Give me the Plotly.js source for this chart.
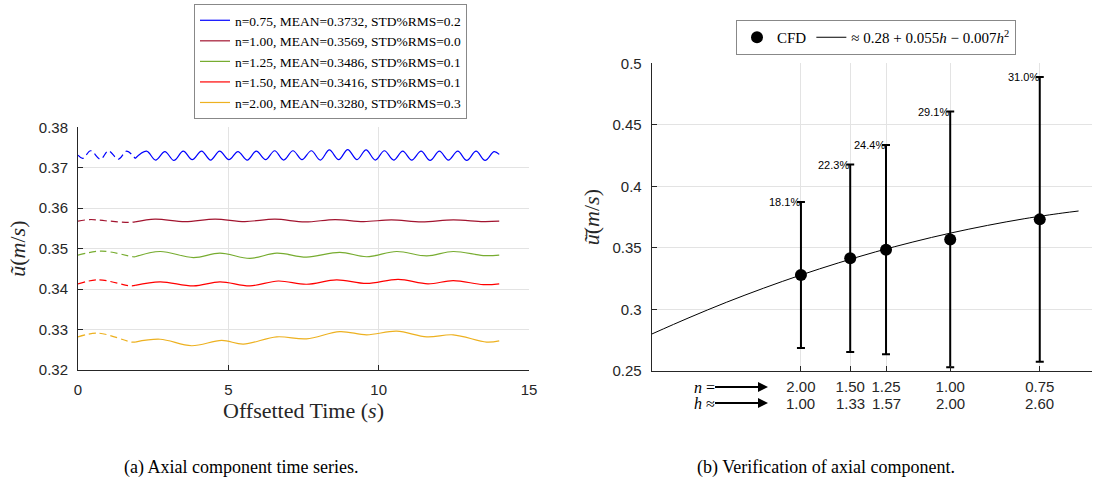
<!DOCTYPE html>
<html><head><meta charset="utf-8">
<script src="https://cdn.plot.ly/plotly-3.0.1.min.js"></script>
<style>html,body{margin:0;padding:0;background:#fff}#chart{width:1095px;height:483px}</style>
</head><body><div id="chart"></div>
<script>
// ===== (a) Axial component time series =====
const seriesLabels = [
  "n=0.75, MEAN=0.3732, STD%RMS=0.2",
  "n=1.00, MEAN=0.3569, STD%RMS=0.0",
  "n=1.25, MEAN=0.3486, STD%RMS=0.1",
  "n=1.50, MEAN=0.3416, STD%RMS=0.1",
  "n=2.00, MEAN=0.3280, STD%RMS=0.3"
];
const seriesColors = ["#0000FF", "#A2142F", "#77AC30", "#FF0000", "#EDB120"];

const t075 = [0, 0.16, 0.42, 0.75, 1.01, 1.34, 1.62, 1.90, 2.28, 2.58, 2.89, 3.19, 3.50, 3.80, 4.11, 4.41, 4.71, 5.02, 5.32, 5.63, 5.93, 6.24, 6.54, 6.84, 7.15, 7.45, 7.76, 8.06, 8.36, 8.67, 8.97, 9.28, 9.58, 9.89, 10.19, 10.50, 10.80, 11.10, 11.41, 11.71, 12.02, 12.32, 12.63, 12.93, 13.24, 13.54, 13.84, 14.01];
const u075 = [0.3731, 0.3723, 0.3742, 0.3721, 0.3742, 0.3721, 0.3741, 0.3723, 0.3741, 0.3719, 0.3740, 0.3718, 0.3741, 0.3720, 0.3741, 0.3719, 0.3741, 0.3720, 0.3740, 0.3719, 0.3741, 0.3720, 0.3742, 0.3719, 0.3742, 0.3720, 0.3742, 0.3719, 0.3744, 0.3720, 0.3745, 0.3720, 0.3744, 0.3719, 0.3742, 0.3719, 0.3741, 0.3719, 0.3741, 0.3718, 0.3741, 0.3719, 0.3741, 0.3718, 0.3741, 0.3718, 0.3740, 0.3733];

const t100 = [0, 0.40, 0.90, 1.67, 1.90, 2.56, 3.56, 4.56, 5.55, 6.55, 7.55, 8.55, 9.49, 10.43, 11.43, 12.48, 13.48, 14.01];
const u100 = [0.3568, 0.3572, 0.3569, 0.3565, 0.3566, 0.3573, 0.3567, 0.3573, 0.3567, 0.3573, 0.3566, 0.3572, 0.3567, 0.3571, 0.3566, 0.3571, 0.3567, 0.3568];

const t125 = [0, 0.79, 1.83, 1.90, 2.73, 3.84, 4.72, 5.72, 6.61, 7.60, 8.71, 9.60, 10.60, 11.60, 12.48, 13.48, 14.01];
const u125 = [0.3484, 0.3494, 0.3480, 0.3480, 0.3493, 0.3478, 0.3489, 0.3476, 0.3489, 0.3479, 0.3491, 0.3480, 0.3493, 0.3482, 0.3493, 0.3483, 0.3484];

const t150 = [0, 0.68, 1.73, 1.90, 2.73, 3.84, 4.72, 5.72, 6.66, 7.60, 8.60, 9.60, 10.65, 11.64, 12.48, 13.48, 14.01];
const u150 = [0.3413, 0.3423, 0.3408, 0.3409, 0.3418, 0.3408, 0.3418, 0.3408, 0.3420, 0.3412, 0.3423, 0.3414, 0.3424, 0.3413, 0.3421, 0.3411, 0.3413];

const t200 = [0, 0.68, 1.78, 1.90, 2.73, 3.78, 4.78, 5.50, 6.61, 7.60, 8.71, 9.60, 10.60, 11.60, 12.48, 13.59, 14.01];
const u200 = [0.3282, 0.3291, 0.3269, 0.3269, 0.3276, 0.3260, 0.3273, 0.3264, 0.3282, 0.3277, 0.3295, 0.3287, 0.3296, 0.3282, 0.3287, 0.3269, 0.3272];

const seriesT = [t075, t100, t125, t150, t200];
const seriesU = [u075, u100, u125, u150, u200];
const DASH_END = 1.9; // start-up transient drawn dashed

// ===== (b) Verification of axial component =====
const nLabels = ["2.00", "1.50", "1.25", "1.00", "0.75"];
const hVals   = [1.00, 1.33, 1.57, 2.00, 2.60];
const hLabels = ["1.00", "1.33", "1.57", "2.00", "2.60"];
const meanU   = [0.3280, 0.3416, 0.3486, 0.3569, 0.3732];
const pctErr  = [18.1, 22.3, 24.4, 29.1, 31.0];
const fitH = [0, 0.25, 0.5, 0.75, 1.0, 1.25, 1.5, 1.75, 2.0, 2.25, 2.5, 2.75, 2.86];
const fitU = [0.2800, 0.2933, 0.3058, 0.3173, 0.3280, 0.3378, 0.3468, 0.3548, 0.3620, 0.3683, 0.3738, 0.3783, 0.3800];

const SERIF = "Liberation Serif, Times New Roman, serif";
const SANS = "Liberation Sans, Arial, Helvetica, sans-serif";
const AX = "#262626";
const GRID = "#e3e3e3";

const traces = [];
seriesT.forEach((t, i) => {
  const u = seriesU[i];
  const dx = [], dy = [], sx = [], sy = [];
  t.forEach((tt, k) => {
    if (tt <= DASH_END) { dx.push(tt); dy.push(u[k]); }
    if (tt >= DASH_END) { sx.push(tt); sy.push(u[k]); }
  });
  traces.push({x: dx, y: dy, xaxis: "x", yaxis: "y", mode: "lines", showlegend: false,
    line: {color: seriesColors[i], width: 1.2, dash: "7px,4px", shape: "spline"}, hoverinfo: "skip"});
  traces.push({x: sx, y: sy, xaxis: "x", yaxis: "y", mode: "lines", name: seriesLabels[i],
    legend: "legend", line: {color: seriesColors[i], width: 1.2, shape: "spline"}});
});

const errHalf = meanU.map((m, i) => m * pctErr[i] / 100);
traces.push({x: hVals, y: meanU, xaxis: "x2", yaxis: "y2", mode: "markers", legend: "legend2",
  name: "CFD", marker: {color: "#000", size: 12},
  error_y: {type: "data", array: errHalf, visible: true, color: "#000", thickness: 2, width: 4}});
traces.push({x: fitH, y: fitU, xaxis: "x2", yaxis: "y2", mode: "lines", legend: "legend2",
  name: "≈ 0.28 + 0.055<i>h</i> − 0.007<i>h</i><sup>2</sup>",
  line: {color: "#000", width: 1, shape: "spline"}});

const annotations = [];
hVals.forEach((h, i) => {
  annotations.push({xref: "x2", yref: "y2", x: h, y: meanU[i] + errHalf[i], text: pctErr[i].toFixed(1) + "%",
    showarrow: false, xanchor: "right", yanchor: "middle", xshift: 1, font: {family: SANS, size: 11, color: "#000"}});
  annotations.push({xref: "x2", yref: "paper", x: h, y: 1 - 403 / 483, text: hLabels[i], showarrow: false,
    xanchor: "center", yanchor: "middle", font: {family: SANS, size: 15, color: AX}});
});
// n = / h ≈ arrows
[["<i>n</i> =", 387], ["<i>h</i> ≈", 403]].forEach(([txt, py]) => {
  annotations.push({xref: "paper", yref: "paper", x: 768 / 1095, y: 1 - py / 483, ax: -64, ay: 0,
    text: txt, showarrow: true, arrowhead: 2, arrowsize: 1, arrowwidth: 2, arrowcolor: "#000",
    borderpad: 0, font: {family: SERIF, size: 16, color: "#000"}});
});
annotations.push({xref: "paper", yref: "paper", x: 241 / 1095, y: 1 - 467 / 483, text: "(a) Axial component time series.",
  showarrow: false, xanchor: "center", yanchor: "middle", font: {family: SERIF, size: 18, color: "#000"}});
annotations.push({xref: "paper", yref: "paper", x: 826 / 1095, y: 1 - 467 / 483, text: "(b) Verification of axial component.",
  showarrow: false, xanchor: "center", yanchor: "middle", font: {family: SERIF, size: 18, color: "#000"}});

const axCommon = {showline: true, linecolor: AX, linewidth: 1, ticks: "inside", ticklen: 5, tickcolor: AX,
  showgrid: true, gridcolor: GRID, gridwidth: 1, zeroline: false, mirror: false,
  tickfont: {family: SANS, size: 15, color: AX}, ticklabelstandoff: 6};

const layout = {
  width: 1095, height: 483, margin: {l: 0, r: 0, t: 0, b: 0}, paper_bgcolor: "#fff", plot_bgcolor: "#fff",
  showlegend: true,
  xaxis: Object.assign({}, axCommon, {domain: [78 / 1095, 529 / 1095], range: [0, 15], tickvals: [0, 5, 10, 15],
    anchor: "y", title: {text: "Offsetted Time (<i>s</i>)", font: {family: SERIF, size: 22, color: AX}, standoff: 4}}),
  yaxis: Object.assign({}, axCommon, {domain: [1 - 370 / 483, 1 - 127.3 / 483], range: [0.32, 0.38], dtick: 0.01,
    tickformat: ".2f", anchor: "x",
    title: {text: "<i>ũ</i>(<i>m</i>/<i>s</i>)", font: {family: SERIF, size: 22, color: AX}, standoff: 7}}),
  xaxis2: Object.assign({}, axCommon, {domain: [651.7 / 1095, 1092 / 1095], range: [0, 2.95], tickmode: "array",
    tickvals: hVals, ticktext: nLabels, anchor: "y2", ticklabelstandoff: 2}),
  yaxis2: Object.assign({}, axCommon, {domain: [1 - 371 / 483, 1 - 63.3 / 483], range: [0.25, 0.5],
    tickvals: [0.25, 0.3, 0.35, 0.4, 0.45, 0.5], ticktext: ["0.25", "0.3", "0.35", "0.4", "0.45", "0.5"], anchor: "x2",
    title: {text: "<i>u\u0303\u0304</i>(<i>m</i>/<i>s</i>)", font: {family: SERIF, size: 22, color: AX}, standoff: 6}}),
  legend: {x: 194 / 1095, y: 1 - 4 / 483, xanchor: "left", yanchor: "top", bgcolor: "#fff", bordercolor: "#888",
    borderwidth: 1, font: {family: SERIF, size: 13.5, color: "#000"}, tracegroupgap: 0},
  legend2: {x: 876 / 1095, y: 1 - 20 / 483, xanchor: "center", yanchor: "top", orientation: "h", bgcolor: "#fff",
    bordercolor: "#888", borderwidth: 1, font: {family: SERIF, size: 15, color: "#000"}},
  annotations: annotations
};

Plotly.newPlot("chart", traces, layout, {displayModeBar: false, responsive: false});
</script></body></html>
